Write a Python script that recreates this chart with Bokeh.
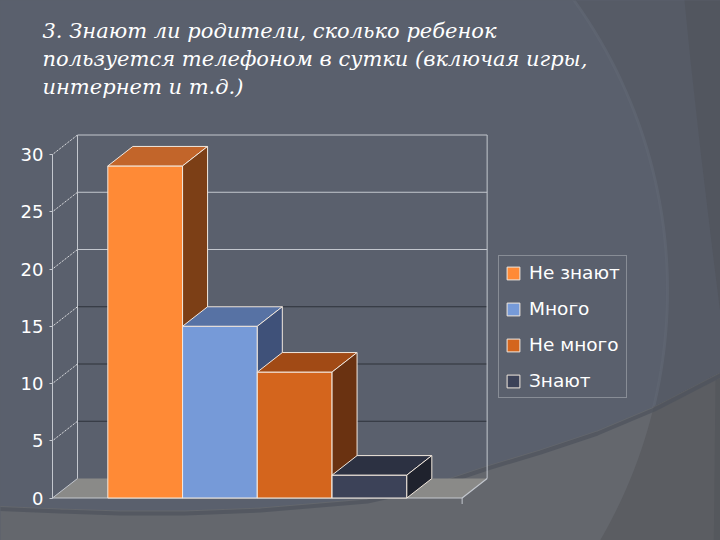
from bokeh.plotting import figure
from bokeh.models import Range1d, LinearAxis, FixedTicker, Label
from bokeh.embed import file_html
from bokeh.resources import INLINE
import math

# ---------------- data ----------------
categories = ["Не знают", "Много", "Не много", "Знают"]
values = [29, 15, 11, 2]
y_ticks = [0, 5, 10, 15, 20, 25, 30]
title_lines = [
    "3. Знают ли родители, сколько ребенок",
    "пользуется телефоном в сутки (включая игры,",
    "интернет и т.д.)",
]

# ---------------- style ----------------
front_colors = ["#FF8A36", "#769AD8", "#D4651D", "#3C4258"]
top_colors = ["#C2652A", "#5772A4", "#A14A15", "#2C3142"]
side_colors = ["#7C3F16", "#3F5179", "#6A3211", "#1F222D"]
edge_color = "#F2E8DE"
BG = "#5A606D"
OUTER = "#565B66"
FAR = "#52565F"
BAND = "#64676D"
BAND_OUTER = "#5B5D62"
LIGHT = "#C3C7CE"
DARK = "#2E323B"
FLOOR = "#8A8A88"

W, H = 720, 540
AXIS_PX = 52             # screen x of the front value axis
PX_X = 74.75             # px per category unit
PX_Y = 11.45             # px per value unit
ZERO_Y = 497.5           # screen y of value 0
GAP = 0.74
DX = 25 / PX_X
DY = 19.5 / PX_Y
YMAX = max(y_ticks)

axis_x = 0.5 - GAP
floor_r = len(values) + 0.5 + GAP
x_start = axis_x - AXIS_PX / PX_X
x_end = x_start + W / PX_X
y_start = -(H - ZERO_Y) / PX_Y
y_end = ZERO_Y / PX_Y

p = figure(width=W, height=H, x_range=Range1d(x_start, x_end),
           y_range=Range1d(y_start, y_end), x_axis_type=None, y_axis_type=None,
           output_backend="svg", toolbar_location=None,
           min_border_left=0, min_border_right=0,
           min_border_top=0, min_border_bottom=0,
           background_fill_color=BG, border_fill_color=BG,
           outline_line_color=None)
p.extra_x_ranges = {"px": Range1d(0, W)}
p.extra_y_ranges = {"px": Range1d(H, 0)}

# ---------------- slide background decoration (screen px) ----------------
cx, cy, r = 170, 290, 497
def arc(y):
    return cx + math.sqrt(max(r * r - (y - cy) ** 2, 0))

ys = list(range(-10, 570, 10))
arc_x = [arc(y) for y in ys]
p.patch(arc_x + [760, 760], ys + [570, -10], x_range_name="px", y_range_name="px",
        fill_color=OUTER, line_color=None)
p.patch([683, 690, 700, 712, 722, 760, 760], [-10, 60, 150, 250, 330, 330, -10],
        x_range_name="px", y_range_name="px", fill_color=FAR, line_color=None)
p.line(arc_x, ys, x_range_name="px", y_range_name="px", line_color="#5F6572",
       line_width=3, line_alpha=0.8)
curve_x = [-10, 60, 120, 184, 260, 367, 430, 487, 540, 597, 654, 660, 720, 760]
curve_y = [505, 508, 510, 510, 507, 498, 484, 465, 449, 430, 406, 403, 372, 352]
p.patch(curve_x + [760, -10], curve_y + [570, 570], x_range_name="px", y_range_name="px",
        fill_color=BAND, line_color=None)
cut = curve_x.index(654)
br_y = list(range(570, 406, -10)) + [406]
p.patch(curve_x[cut:] + [760] + [arc(y) for y in br_y],
        curve_y[cut:] + [570] + br_y, x_range_name="px", y_range_name="px",
        fill_color=BAND_OUTER, line_color=None)
p.patch([715, 760, 760, 713], [380, 360, 570, 570], x_range_name="px",
        y_range_name="px", fill_color="#55585D", line_color=None)
p.line(curve_x, [c + 3 for c in curve_y], x_range_name="px",
       y_range_name="px", line_color="#4D525D", line_width=4, line_alpha=0.7)

# ---------------- 3D box: floor, walls, grid ----------------
p.patch([axis_x, floor_r, floor_r + DX, axis_x + DX], [0, 0, DY, DY],
        fill_color=FLOOR, line_color=None)
for v in y_ticks[1:]:
    col = LIGHT if v >= 20 else DARK
    p.line([axis_x + DX, floor_r + DX], [v + DY, v + DY], line_color=col, line_width=1)
    p.line([axis_x, axis_x + DX], [v, v + DY], line_color="white", line_width=1,
           line_dash="1 1")
p.line([axis_x + DX, axis_x + DX], [DY, YMAX + DY], line_color=LIGHT, line_width=1)
p.line([floor_r + DX, floor_r + DX], [DY, YMAX + DY], line_color=LIGHT, line_width=1)
p.line([axis_x, floor_r, floor_r + DX], [0, 0, DY], line_color=LIGHT, line_width=1.2)
p.line([axis_x, axis_x + DX], [0, DY], line_color=LIGHT, line_width=1)
p.line([floor_r, floor_r], [0, -6 / PX_Y], line_color=LIGHT, line_width=1)

# ---------------- bars ----------------
for i, (cat, v) in enumerate(zip(categories, values)):
    l, rr = i + 0.5, i + 1.5
    p.quad(left=[l], right=[rr], bottom=[0], top=[v], fill_color=front_colors[i],
           line_color=edge_color, line_width=1, legend_label=cat)
    p.patch([l, rr, rr + DX, l + DX], [v, v, v + DY, v + DY], fill_color=top_colors[i],
            line_color=edge_color, line_width=1)
    p.patch([rr, rr + DX, rr + DX, rr], [0, DY, v + DY, v], fill_color=side_colors[i],
            line_color=edge_color, line_width=1)

# ---------------- axis (drawn at the front edge of the 3D box) ----------------
yaxis = LinearAxis(ticker=FixedTicker(ticks=y_ticks), bounds=(0, YMAX),
                   fixed_location=axis_x)
yaxis.axis_line_color = LIGHT
yaxis.major_tick_line_color = LIGHT
yaxis.major_tick_out = 3
yaxis.major_tick_in = 0
yaxis.minor_tick_line_color = None
yaxis.major_label_text_color = "white"
yaxis.major_label_text_font = "DejaVu Sans"
yaxis.major_label_text_font_size = "18px"
yaxis.major_label_standoff = 6
p.add_layout(yaxis, "left")

# ---------------- legend ----------------
lg = p.legend[0]
lg.location = (498, 142)
lg.border_line_color = "#B5B9C0"
lg.border_line_width = 1
lg.background_fill_alpha = 0
lg.label_text_color = "white"
lg.label_text_font = "DejaVu Sans"
lg.label_text_font_size = "18.5px"
lg.glyph_width = 16
lg.glyph_height = 16
lg.label_standoff = 8
lg.label_height = 20
lg.spacing = 15
lg.padding = 6
lg.margin = 0

# ---------------- title ----------------
for k, line in enumerate(title_lines):
    p.add_layout(Label(x=42, y=30 + 28 * k, x_range_name="px", y_range_name="px",
                       text=line, text_color="white", text_font="DejaVu Serif",
                       text_font_style="italic", text_font_size="21px",
                       text_baseline="alphabetic"))

html = file_html(p, INLINE)
html = html.replace("</head>",
                    "<style>body{background:%s;overflow:hidden;}</style></head>" % BG, 1)
open("out.html", "w").write(html)
